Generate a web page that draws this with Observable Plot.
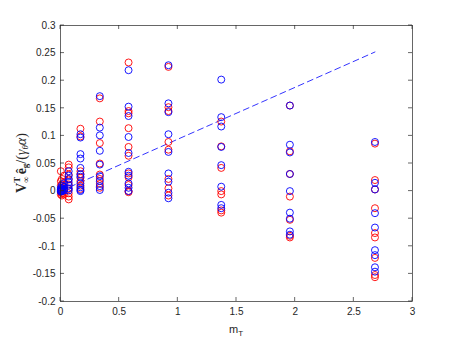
<!DOCTYPE html>
<html><head><meta charset="utf-8">
<script src="https://cdn.jsdelivr.net/npm/d3@7"></script>
<script src="https://cdn.jsdelivr.net/npm/@observablehq/plot@0.6"></script>
<style>html,body{margin:0;padding:0;background:#fff;} svg{display:block}</style>
</head><body><div id="chart"></div>
<script>
// x positions of the measurement columns (m_T)
const mT = [0.003, 0.012, 0.03, 0.07, 0.17, 0.335, 0.58, 0.92, 1.37, 1.955, 2.68];
// red series values per column
const redY = [
  [0.036, 0.018, 0.010, 0.004, -0.002, -0.006],
  [0.022, 0.012, 0.006, 0.000, -0.004, -0.008],
  [0.028, 0.016, 0.008, 0.002, -0.005],
  [0.048, 0.043, 0.030, 0.021, 0.012, 0.004, -0.004, -0.010, -0.015],
  [0.113, 0.099, 0.036, 0.031, 0.024, 0.018, 0.010, 0.004],
  [0.168, 0.126, 0.087, 0.050, 0.030, 0.022, 0.013, 0.006],
  [0.233, 0.145, 0.141, 0.114, 0.080, 0.064, 0.032, 0.025, 0.011, 0.000, -0.002],
  [0.225, 0.152, 0.145, 0.089, 0.075, 0.022, 0.005, -0.008],
  [0.126, 0.081, 0.042, 0.000, -0.006, -0.035, -0.039],
  [0.155, 0.072, 0.031, -0.010, -0.052, -0.081, -0.084],
  [0.086, 0.020, 0.003, -0.031, -0.076, -0.084, -0.121, -0.152, -0.156]
];
// blue series values per column
const blueY = [
  [0.006, 0.003, 0.001, 0.000, -0.001],
  [0.010, 0.005, 0.002, 0.000],
  [0.014, 0.008, 0.004, 0.001],
  [0.036, 0.028, 0.022, 0.016, 0.010, 0.005, 0.001],
  [0.103, 0.097, 0.067, 0.059, 0.042, 0.030, 0.026, 0.014, 0.007, 0.002, 0.000],
  [0.172, 0.115, 0.101, 0.073, 0.048, 0.027, 0.018, 0.009, 0.002],
  [0.219, 0.153, 0.136, 0.098, 0.069, 0.035, 0.028, 0.014, 0.006, 0.000],
  [0.228, 0.159, 0.143, 0.103, 0.071, 0.032, 0.017, -0.003, -0.013],
  [0.202, 0.134, 0.117, 0.080, 0.047, 0.008, -0.025, -0.031],
  [0.155, 0.084, 0.070, 0.031, 0.000, -0.039, -0.050, -0.073, -0.079],
  [0.089, 0.015, 0.003, -0.040, -0.066, -0.107, -0.116, -0.138, -0.146]
];
// dashed trend line endpoints
const fitX = [0, 2.68];
const fitY = [0, 0.252];
// tick values
const xTicks = [0, 0.5, 1, 1.5, 2, 2.5, 3];
const yTicks = [-0.2, -0.15, -0.1, -0.05, 0, 0.05, 0.1, 0.15, 0.2, 0.25, 0.3];

function flatten(ys) {
  const out = [];
  ys.forEach((col, i) => col.forEach(y => out.push({x: mT[i], y})));
  return out;
}
const red = flatten(redY), blue = flatten(blueY);
const fit = fitX.map((x, i) => ({x, y: fitY[i]}));
const fmt = d => String(+(+d).toFixed(2));
const ink = "#262626";

const chart = Plot.plot({
  width: 455, height: 341,
  marginLeft: 60, marginRight: 43, marginTop: 25, marginBottom: 40,
  style: {fontFamily: "'Liberation Sans', Arial, sans-serif", fontSize: "10px", color: ink, background: "#fff"},
  x: {domain: [0, 3]},
  y: {domain: [-0.2, 0.3]},
  marks: [
    Plot.axisX({ticks: xTicks, tickSize: 0, tickPadding: 6, tickFormat: fmt, label: null}),
    Plot.axisY({ticks: yTicks, tickSize: 0, tickPadding: 5, tickFormat: fmt, label: null}),
    Plot.line(fit, {x: "x", y: "y", stroke: "#0000ff", strokeWidth: 0.8, strokeDasharray: "6,4"}),
    Plot.dot(red, {x: "x", y: "y", r: 3.5, stroke: "#ff0000", strokeWidth: 0.9, fill: "none"}),
    Plot.dot(blue, {x: "x", y: "y", r: 3.5, stroke: "#0000ff", strokeWidth: 0.9, fill: "none"}),
    Plot.frame({stroke: ink, strokeWidth: 0.7})
  ]
});

const sx = chart.scale("x"), sy = chart.scale("y");
const [X0, X1] = sx.range, [Y0, Y1] = sy.range; // Y0 bottom, Y1 top
const svg = d3.select(chart);
const g = svg.append("g").attr("stroke", ink).attr("stroke-width", 0.7);
const TL = 4;
xTicks.forEach(t => {
  const px = sx.apply(t);
  g.append("line").attr("x1", px).attr("x2", px).attr("y1", Y0).attr("y2", Y0 - TL);
  g.append("line").attr("x1", px).attr("x2", px).attr("y1", Y1).attr("y2", Y1 + TL);
});
yTicks.forEach(t => {
  const py = sy.apply(t);
  g.append("line").attr("y1", py).attr("y2", py).attr("x1", X0).attr("x2", X0 + TL);
  g.append("line").attr("y1", py).attr("y2", py).attr("x1", X1).attr("x2", X1 - TL);
});

// x label m_T
const xl = svg.append("text")
  .attr("x", (X0 + X1) / 2).attr("y", 333)
  .attr("text-anchor", "middle")
  .attr("fill", ink)
  .attr("font-family", "'Liberation Sans', Arial, sans-serif")
  .attr("font-size", 11);
xl.append("tspan").text("m");
xl.append("tspan").attr("font-size", 8).attr("dy", 3).text("T");

// y label
const yl = svg.append("text")
  .attr("transform", `translate(26,${(Y0 + Y1) / 2}) rotate(-90)`)
  .attr("text-anchor", "middle")
  .attr("fill", ink)
  .attr("font-family", "'Liberation Serif', 'DejaVu Serif', serif")
  .attr("font-size", 14);
yl.append("tspan").attr("font-weight", "bold").text("V");
yl.append("tspan").attr("font-weight", "bold").attr("font-size", 9).attr("dy", -6).text("T");
yl.append("tspan").attr("font-size", 9).attr("dx", -6).attr("dy", 9).text("∞");
yl.append("tspan").attr("font-weight", "bold").attr("dy", -3).attr("dx", 2).text("ê");
yl.append("tspan").attr("font-weight", "bold").attr("font-size", 9).attr("dy", 2).text("g");
yl.append("tspan").attr("dy", -2).text("/(");
yl.append("tspan").attr("font-style", "italic").text("γ");
yl.append("tspan").attr("font-style", "italic").attr("font-size", 9).attr("dy", 2).text("θ");
yl.append("tspan").attr("font-style", "italic").attr("dy", -2).text("α");
yl.append("tspan").text(")");

document.getElementById("chart").append(chart);
</script>
</body></html>
